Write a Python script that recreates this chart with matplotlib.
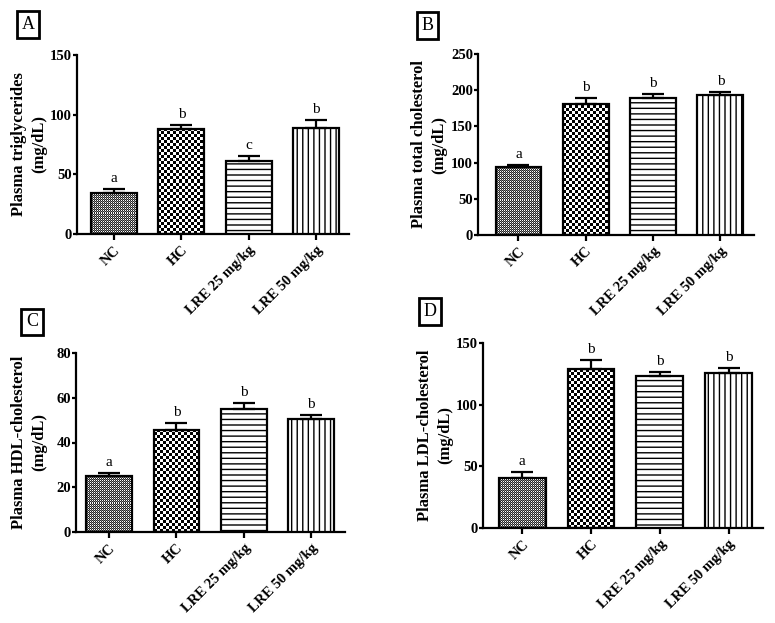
import numpy as np
import matplotlib
matplotlib.use('Agg')
import matplotlib.pyplot as plt

plt.rcParams['font.family'] = ['Liberation Serif', 'DejaVu Serif']
plt.rcParams['hatch.linewidth'] = 1.0

groups = ['NC', 'HC', 'LRE 25 mg/kg', 'LRE 50 mg/kg']

tg_mean = [34.5, 88, 61.4, 88.5]
tg_sem = [3.3, 3.0, 4.0, 7.0]
tg_letters = ['a', 'b', 'c', 'b']

tc_mean = [94, 181, 189, 193]
tc_sem = [3, 8, 6, 5]
tc_letters = ['a', 'b', 'b', 'b']

hdl_mean = [25.2, 45.6, 55.1, 50.5]
hdl_sem = [1.0, 3.0, 2.6, 1.7]
hdl_letters = ['a', 'b', 'b', 'b']

ldl_mean = [40.5, 128.6, 123.0, 125.7]
ldl_sem = [4.6, 8.0, 3.8, 3.8]
ldl_letters = ['a', 'b', 'b', 'b']

fig = plt.figure(figsize=(7.75, 6.23), dpi=100)
W, H = 775, 623


def ax_at(l, r, t, b):
    return fig.add_axes([l / W, 1 - b / H, (r - l) / W, (b - t) / H])


def pattern_image(ax, rect, kind):
    x0, w, h = rect.get_x(), rect.get_width(), rect.get_height()
    p0 = ax.transData.transform((x0, 0))
    p1 = ax.transData.transform((x0 + w, h))
    nw = max(int(round(p1[0] - p0[0])), 1)
    nh = max(int(round(p1[1] - p0[1])), 1)
    r, c = np.indices((nh, nw))
    if kind == 'fine':
        arr = np.where((r % 2 == 0) & (c % 2 == 0), 1.0, 0.15)
        arr = np.where((r % 2 == 1) & (c % 2 == 1), 0.5, arr)
    else:
        arr = (((r // 3) + (c // 3)) % 2).astype(float)
    ax.imshow(arr, cmap='gray', vmin=0, vmax=1, origin='lower',
              extent=(x0, x0 + w, 0, h), interpolation='nearest',
              aspect='auto', zorder=2)


def panel(box, xlim, ymax, yticks, means, sems, letters, ylabel, lab_x,
          bar_w=0.68):
    l, r, t, b = box
    ax = ax_at(l, r, t, b)
    x = np.arange(len(means))
    ax.set_xlim(*xlim)
    ax.set_ylim(0, ymax)
    styles = ['fine', 'checker', '---', '|||']
    for i, (m, s) in enumerate(zip(means, sems)):
        st = styles[i]
        if st in ('fine', 'checker'):
            bar = ax.bar(x[i], m, width=bar_w, facecolor='none',
                         edgecolor='black', linewidth=1.6, zorder=3)[0]
            pattern_image(ax, bar, st)
        else:
            ax.bar(x[i], m, width=bar_w, facecolor='white', edgecolor='black',
                   hatch=st, linewidth=1.6, zorder=3)
    ax.errorbar(x, means, yerr=[np.zeros(len(sems)), sems], fmt='none',
                ecolor='black', elinewidth=1.6, capsize=8, capthick=1.6,
                zorder=4)
    for xi, m, s, lt in zip(x, means, sems, letters):
        ax.annotate(lt, (xi, m + s), xytext=(0, 5), textcoords='offset points',
                    ha='center', va='baseline', fontsize=11)
    ax.set_xlim(*xlim)
    ax.set_ylim(0, ymax)
    ax.set_yticks(yticks)
    ax.set_xticks(x)
    ax.set_xticklabels(groups, rotation=45, ha='right',
                       rotation_mode='anchor', fontweight='bold', fontsize=10.5)
    for lab in ax.get_yticklabels():
        lab.set_fontweight('bold')
        lab.set_fontsize(10.5)
    for sp in ['top', 'right']:
        ax.spines[sp].set_visible(False)
    for sp in ['left', 'bottom']:
        ax.spines[sp].set_linewidth(1.6)
    ax.tick_params(axis='y', length=3, width=1.6, pad=0.5)
    ax.tick_params(axis='x', length=4, width=1.6, pad=3)
    ax.set_ylabel(ylabel, fontsize=12, fontweight='bold', linespacing=1.3)
    ax.yaxis.set_label_coords(lab_x, 0.5)
    return ax


panel((77, 349, 55, 234), (-0.55, 3.49), 150, [0, 50, 100, 150],
      tg_mean, tg_sem, tg_letters, 'Plasma triglycerides\n(mg/dL)', -0.11)
panel((478, 754, 54, 235), (-0.6, 3.5), 250, [0, 50, 100, 150, 200, 250],
      tc_mean, tc_sem, tc_letters, 'Plasma total cholesterol\n(mg/dL)', -0.112)
panel((76, 345, 353, 532), (-0.49, 3.5), 80, [0, 20, 40, 60, 80],
      hdl_mean, hdl_sem, hdl_letters, 'Plasma HDL-cholesterol\n(mg/dL)', -0.108)
panel((483, 763, 343, 528), (-0.57, 3.5), 150, [0, 50, 100, 150],
      ldl_mean, ldl_sem, ldl_letters, 'Plasma LDL-cholesterol\n(mg/dL)', -0.107)

for lt, px, py in [('A', 28, 24.5), ('B', 427.5, 25.5), ('C', 32, 322),
                   ('D', 430, 311.5)]:
    fig.text(px / W, 1 - py / H, lt, ha='center', va='center', fontsize=13,
             bbox=dict(boxstyle='square,pad=0.25', facecolor='white',
                       edgecolor='black', linewidth=2))

fig.savefig('out.png', dpi=100, facecolor='white')
